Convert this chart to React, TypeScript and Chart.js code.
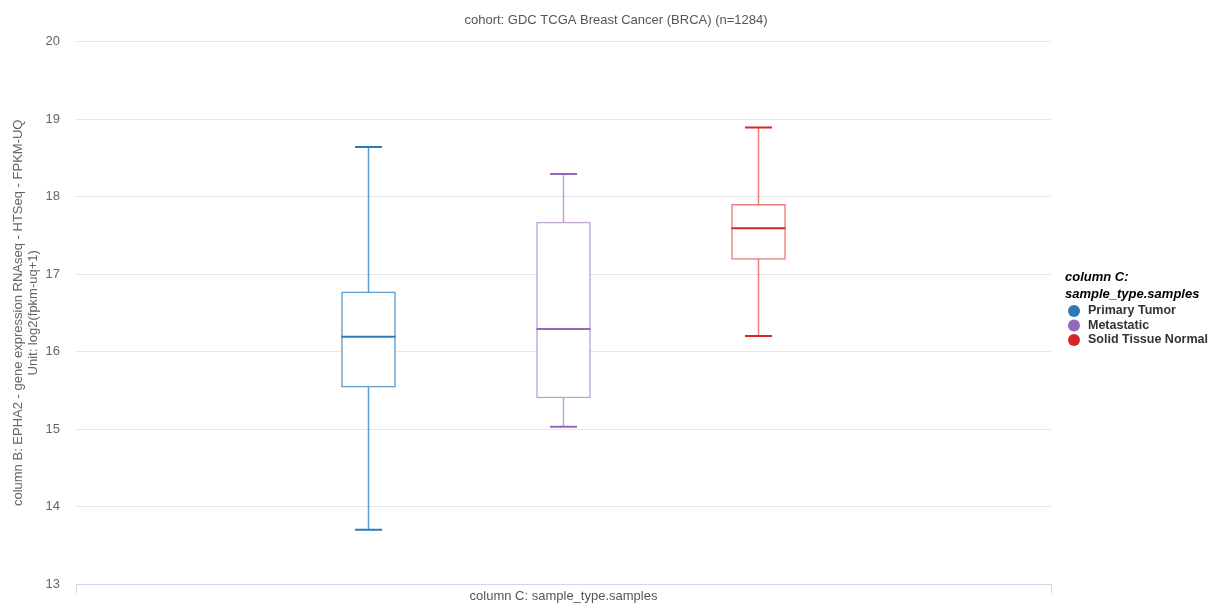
import React, { useEffect, useRef } from "react";
import { Chart, registerables } from "chart.js";

Chart.register(...registerables);

const groups = ["Primary Tumor", "Metastatic", "Solid Tissue Normal"];
const positions = [1.5, 2.5, 3.5];
const mins = [13.7, 15.03, 16.2];
const q1s = [15.54, 15.4, 17.19];
const medians = [16.19, 16.29, 17.59];
const q3s = [16.77, 17.67, 17.9];
const maxs = [18.64, 18.29, 18.89];
const colors = ["#2b7bba", "#9467bd", "#d62728"];
const boxColors = ["rgba(43,123,186,0.75)", "rgba(148,103,189,0.6)", "rgba(214,39,40,0.6)"];
const yTicks = [13, 14, 15, 16, 17, 18, 19, 20];

const titleText = "cohort: GDC TCGA Breast Cancer (BRCA) (n=1284)";
const yTitle = ["column B: EPHA2 - gene expression RNAseq - HTSeq - FPKM-UQ", "Unit: log2(fpkm-uq+1)"];
const xTitle = "column C: sample_type.samples";
const legendTitle = ["column C:", "sample_type.samples"];

const FONT = "'Liberation Sans', Arial, Helvetica, sans-serif";

const boxPlugin = {
  id: "boxWhiskers",
  afterDatasetsDraw(chart: any) {
    const { ctx, scales } = chart;
    const xs = scales.x;
    const ys = scales.y;
    ctx.save();
    for (let i = 0; i < groups.length; i++) {
      const meta = chart.getDatasetMeta(i);
      const bar = meta.data[0];
      const cx = xs.getPixelForValue(positions[i]);
      const half = bar ? bar.width / 2 : 27;
      const yMin = ys.getPixelForValue(mins[i]);
      const yQ1 = ys.getPixelForValue(q1s[i]);
      const yMed = ys.getPixelForValue(medians[i]);
      const yQ3 = ys.getPixelForValue(q3s[i]);
      const yMax = ys.getPixelForValue(maxs[i]);
      ctx.strokeStyle = boxColors[i];
      ctx.lineWidth = 1.5;
      ctx.beginPath();
      ctx.moveTo(cx, yQ3);
      ctx.lineTo(cx, yMax);
      ctx.moveTo(cx, yQ1);
      ctx.lineTo(cx, yMin);
      ctx.stroke();
      ctx.strokeStyle = colors[i];
      ctx.lineWidth = 2;
      const cap = 13.5;
      ctx.beginPath();
      ctx.moveTo(cx - cap, yMax);
      ctx.lineTo(cx + cap, yMax);
      ctx.moveTo(cx - cap, yMin);
      ctx.lineTo(cx + cap, yMin);
      ctx.stroke();
      ctx.beginPath();
      ctx.moveTo(cx - half, yMed);
      ctx.lineTo(cx + half, yMed);
      ctx.stroke();
    }
    ctx.restore();
  },
  afterDraw(chart: any) {
    const { ctx, chartArea } = chart;
    const x0 = chartArea.right + 14;
    ctx.save();
    ctx.textBaseline = "middle";
    ctx.textAlign = "left";
    ctx.fillStyle = "#000000";
    ctx.font = `italic bold 13px ${FONT}`;
    ctx.fillText(legendTitle[0], x0, 277);
    ctx.fillText(legendTitle[1], x0, 294);
    ctx.font = `bold 12.5px ${FONT}`;
    for (let i = 0; i < groups.length; i++) {
      const y = 311 + i * 14.5;
      ctx.fillStyle = colors[i];
      ctx.beginPath();
      ctx.arc(x0 + 9, y, 6, 0, Math.PI * 2);
      ctx.fill();
      ctx.fillStyle = "#333333";
      ctx.fillText(groups[i], x0 + 23, y);
    }
    ctx.restore();
  },
};

export default function App() {
  const ref = useRef<HTMLCanvasElement | null>(null);
  useEffect(() => {
    if (!ref.current) return;
    const chart = new Chart(ref.current, {
      type: "bar",
      data: {
        datasets: groups.map((g, i) => ({
          label: g,
          data: [{ x: positions[i], y: [q1s[i], q3s[i]] }] as any,
          backgroundColor: "#ffffff",
          borderColor: boxColors[i],
          borderWidth: 1.5,
          borderSkipped: false,
          barThickness: 54,
          grouped: false,
          yAxisID: "y",
        })),
      },
      plugins: [boxPlugin],
      options: {
        animation: false,
        responsive: true,
        maintainAspectRatio: false,
        layout: { padding: 0 },
        plugins: {
          legend: { display: false },
          tooltip: { enabled: false },
          title: {
            display: true,
            text: titleText,
            color: "#555555",
            font: { family: FONT, size: 13, weight: "normal" },
            padding: { top: 13, bottom: 13 },
          },
        },
        scales: {
          x: {
            type: "linear",
            min: 0,
            max: 5,
            offset: false,
            afterBuildTicks(scale: any) {
              scale.ticks = [{ value: 0 }, { value: 5 }];
            },
            afterFit(scale: any) {
              scale.height = 20;
            },
            ticks: { display: false },
            grid: { offset: false, drawOnChartArea: false, color: "#ccd6eb", tickLength: 9, lineWidth: 1 },
            border: { color: "#ccd6eb" },
            title: {
              display: true,
              text: xTitle,
              color: "#555555",
              font: { family: FONT, size: 13 },
              padding: { top: 0, bottom: 0 },
            },
          },
          y: {
            min: 13,
            max: 20,
            afterBuildTicks(scale: any) {
              scale.ticks = yTicks.map((v) => ({ value: v }));
            },
            afterFit(scale: any) {
              scale.width = 76;
              scale.paddingTop = 0;
              scale.paddingBottom = 0;
            },
            ticks: { color: "#666666", font: { family: FONT, size: 13 }, padding: 16 },
            grid: { color: "#e6e6e6", drawTicks: false },
            border: { display: false },
            title: {
              display: true,
              text: yTitle,
              color: "#666666",
              font: { family: FONT, size: 13, lineHeight: 1.15 },
              padding: { top: 11, bottom: 0 },
            },
          },
          legendSpace: {
            type: "linear",
            position: "right",
            min: 0,
            max: 1,
            afterFit(scale: any) {
              scale.width = 181;
              scale.paddingTop = 0;
              scale.paddingBottom = 0;
            },
            ticks: { display: false },
            grid: { display: false },
            border: { display: false },
          },
        },
      },
    });
    return () => chart.destroy();
  }, []);
  return (
    <div style={{ position: "absolute", left: 0, top: 0, width: 1208, height: 604, overflow: "hidden", background: "#fff" }}>
      <div style={{ position: "relative", width: 1232, height: 604 }}>
        <canvas ref={ref} />
      </div>
    </div>
  );
}
